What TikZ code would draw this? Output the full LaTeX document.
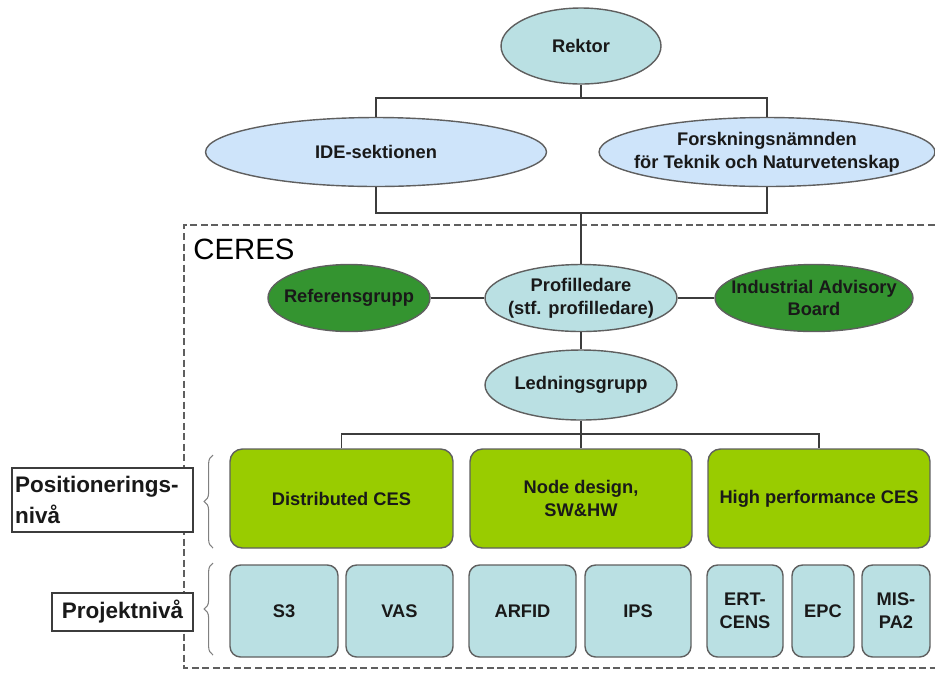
\documentclass[tikz,border=0pt]{standalone}
\usepackage{fontspec}
\setmainfont{Liberation Sans}
\usepackage{xcolor}
\usetikzlibrary{positioning, calc, shapes.geometric, decorations.pathreplacing}

\definecolor{paleteal}{RGB}{186,224,227}
\definecolor{paleblue}{RGB}{206,228,250}
\definecolor{darkgreen}{RGB}{52,148,48}
\definecolor{limegreen}{RGB}{153,204,0}
\definecolor{edgegray}{RGB}{95,95,95}
\definecolor{linegray}{RGB}{60,60,60}

\begin{document}
\begin{tikzpicture}[x=0.02cm, y=-0.02cm,
    oval/.style={ellipse, draw=edgegray, line width=0.8pt, inner xsep=-0.6cm, inner ysep=0pt,
      align=center, text=black!90, font=\bfseries\fontsize{10.4}{13}\selectfont},
    tealoval/.style={oval, fill=paleteal},
    blueoval/.style={oval, fill=paleblue},
    greenoval/.style={oval, fill=darkgreen},
    levelbox/.style={draw=edgegray, line width=0.8pt, rounded corners=7pt, fill=limegreen,
      align=center, minimum height=1.98cm, text=black!90, font=\bfseries\fontsize{10.4}{13}\selectfont},
    projbox/.style={draw=edgegray, line width=0.8pt, rounded corners=6pt, fill=paleteal,
      align=center, minimum height=1.84cm, inner sep=1pt, text=black!90, font=\bfseries\fontsize{10.4}{13}\selectfont},
    tagbox/.style={draw=linegray, line width=1pt, fill=white, text=black!90,
      font=\bfseries\fontsize{12.8}{18}\selectfont},
    link/.style={draw=linegray, line width=1.1pt},
    bracket/.style={draw=gray, line width=0.6pt, decorate, decoration={brace, amplitude=5pt}}]
  \useasboundingbox (0,0) rectangle (935,677);

  % dashed frame of the profile
  \draw[edgegray, line width=1.2pt, dash pattern=on 4pt off 2pt]
    (935,225) -- (184,225) -- (184,668) -- (935,668);
  \node[anchor=base west, inner sep=0pt, font=\fontsize{16.7}{20}\selectfont] (ceres) at (193,259) {CERES};

  % upper levels
  \node[tealoval, minimum width=3.2cm, minimum height=1.52cm] (rektor) at (581,46) {Rektor};
  \node[blueoval, minimum width=6.82cm, minimum height=1.38cm] (ide) at (376,152) {IDE-sektionen};
  \node[blueoval, minimum width=6.72cm, minimum height=1.38cm] (forsk) at (767,152)
    {Forskningsnämnden\\för Teknik och Naturvetenskap};

  % profile management
  \node[tealoval, minimum width=3.84cm, minimum height=1.34cm] (prof) at (581,298)
    {Profilledare\\(stf. profilledare)};
  \node[greenoval, minimum width=3.24cm, minimum height=1.34cm] (ref) at (349,298) {Referensgrupp};
  \node[greenoval, minimum width=3.96cm, minimum height=1.34cm] (iab) at (814,298)
    {Industrial Advisory\\Board};
  \node[tealoval, minimum width=3.84cm, minimum height=1.4cm] (ledn) at (581,385) {Ledningsgrupp};

  % positioning level
  \node[levelbox, minimum width=4.46cm] (dist) at (341.5,498.5) {Distributed CES};
  \node[levelbox, minimum width=4.44cm] (ndes) at (581,498.5) {Node design,\\SW\&HW};
  \node[levelbox, minimum width=4.44cm] (hpc) at (819,498.5) {High performance CES};

  % project level
  \node[projbox, minimum width=2.16cm] (s3) at (284,611) {S3};
  \node[projbox, minimum width=2.14cm] (vas) at (399.5,611) {VAS};
  \node[projbox, minimum width=2.14cm] (arfid) at (522.5,611) {ARFID};
  \node[projbox, minimum width=2.12cm] (ips) at (638,611) {IPS};
  \node[projbox, minimum width=1.52cm] (ert) at (745,611) {ERT-\\CENS};
  \node[projbox, minimum width=1.24cm] (epc) at (823,611) {EPC};
  \node[projbox, minimum width=1.36cm] (mis) at (896,611) {MIS-\\PA2};

  % level tags
  \node[tagbox, text width=3.5cm, inner xsep=0.06cm, minimum height=1.28cm, align=left] (postag)
    at (102.5,500) {Positionerings-\\nivå};
  \node[tagbox, minimum width=2.82cm, minimum height=0.76cm] (projtag) at (122.5,612) {Projektnivå};
  \draw[bracket] (213,548) -- (213,455);
  \draw[bracket] (213,655) -- (213,563);

  % connectors
  \coordinate (topbar) at (581,98);
  \coordinate (midbar) at (581,213);
  \coordinate (lowbar) at (581,434);
  \draw[link] (rektor.south) -- (topbar);
  \draw[link] (ide.north) |- (topbar) -| (forsk.north);
  \draw[link] (ide.south) |- (midbar) -| (forsk.south);
  \draw[link] (midbar) -- (prof.north);
  \draw[link] (ref.east) -- (prof.west);
  \draw[link] (prof.east) -- (iab.west);
  \draw[link] (prof.south) -- (ledn.north);
  \draw[link] (ledn.south) -- (lowbar);
  \draw[link] (dist.north) |- (lowbar) -| (hpc.north);
  \draw[link] (lowbar) -- (ndes.north);
\end{tikzpicture}
\end{document}
